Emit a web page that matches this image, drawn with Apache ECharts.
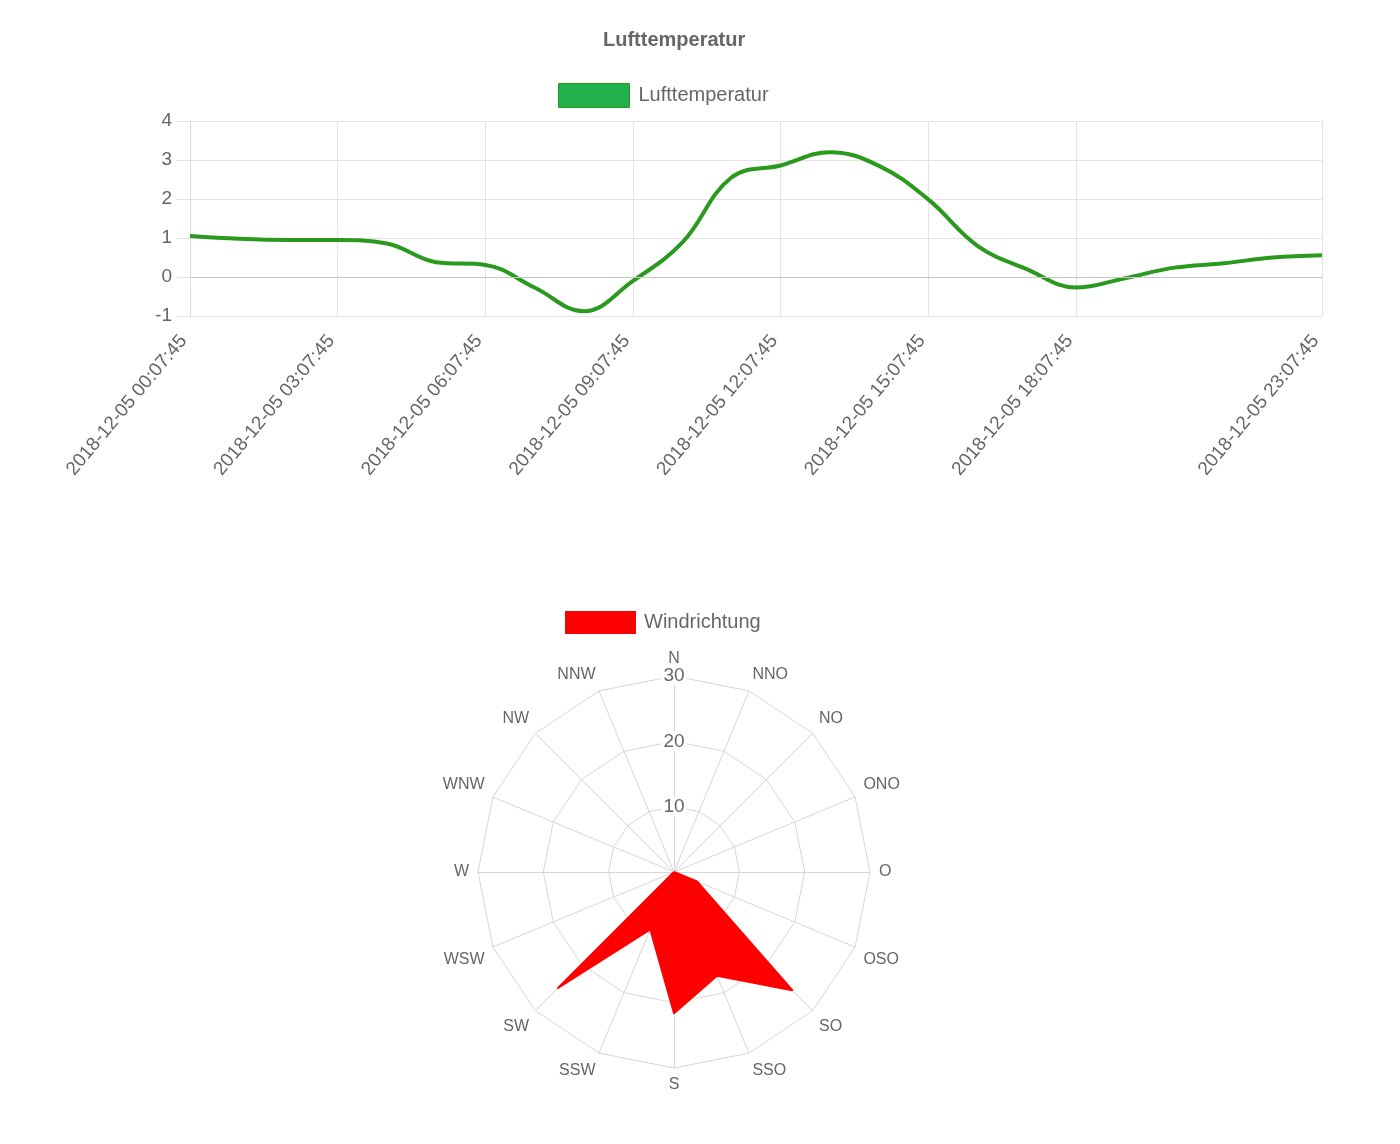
<!DOCTYPE html>
<html lang="de">
<head>
    <meta charset="UTF-8">
    <title>Lufttemperatur / Windrichtung</title>
    <style>
        html, body { margin: 0; padding: 0; background: #fff; }
        #chart { width: 1400px; height: 1144px; }
    </style>
</head>
<body>
<div id="chart"></div>
<script type="text/javascript" src="https://cdn.jsdelivr.net/npm/echarts@6/dist/echarts.min.js"></script>
<script type="text/javascript">

    // Lufttemperatur, stuendlich
    var zeiten = [
        '2018-12-05 00:07:45', '2018-12-05 01:07:45', '2018-12-05 02:07:45', '2018-12-05 03:07:45',
        '2018-12-05 04:07:45', '2018-12-05 05:07:45', '2018-12-05 06:07:45', '2018-12-05 07:07:45',
        '2018-12-05 08:07:45', '2018-12-05 09:07:45', '2018-12-05 10:07:45', '2018-12-05 11:07:45',
        '2018-12-05 12:07:45', '2018-12-05 13:07:45', '2018-12-05 14:07:45', '2018-12-05 15:07:45',
        '2018-12-05 16:07:45', '2018-12-05 17:07:45', '2018-12-05 18:07:45', '2018-12-05 19:07:45',
        '2018-12-05 20:07:45', '2018-12-05 21:07:45', '2018-12-05 22:07:45', '2018-12-05 23:07:45'
    ];
    var temperatur = [1.05, 0.98, 0.95, 0.95, 0.86, 0.38, 0.31, -0.27, -0.88, -0.1, 0.88, 2.55,
                      2.86, 3.2, 2.85, 1.99, 0.8, 0.2, -0.27, -0.03, 0.24, 0.35, 0.5, 0.56];
    var sichtbareTicks = [0, 3, 6, 9, 12, 15, 18, 23];

    // Windrichtung, im Uhrzeigersinn ab Norden
    var richtungen = ['N', 'NNO', 'NO', 'ONO', 'O', 'OSO', 'SO', 'SSO',
                      'S', 'SSW', 'SW', 'WSW', 'W', 'WNW', 'NW', 'NNW'];
    var windWerte = [0, 0, 0, 0, 0, 3.8, 25.6, 17.2, 21.6, 9.5, 25.1, 0, 0, 0, 0, 0];
    var obereNamen = ['NNO', 'NO', 'ONO', 'NNW', 'NW', 'WNW'];
    var untereNamen = ['OSO', 'SO', 'SSO', 'SSW', 'SW', 'WSW'];

    var grau = '#666';
    var gitter = '#e3e3e3';

    function tickZeigen(index) {
        return sichtbareTicks.indexOf(index) >= 0;
    }

    // echarts radar laeuft gegen den Uhrzeigersinn -> Reihenfolge umdrehen
    var radarIdx = [0];
    for (var i = richtungen.length - 1; i > 0; i--) radarIdx.push(i);

    var indikatoren = radarIdx.map(function (k, n) {
        var ind = { name: richtungen[k], max: 30, min: 0 };
        if (n === 0) {
            ind.axisLabel = {
                show: true, showMinLabel: false, margin: 0,
                align: 'center', verticalAlign: 'middle',
                fontSize: 19, color: grau, fontFamily: 'Liberation Sans',
                backgroundColor: '#fff', padding: [0, 2]
            };
        }
        return ind;
    });
    var radarWerte = radarIdx.map(function (k) { return windWerte[k]; });

    var option = {
        animation: false,
        textStyle: { fontFamily: 'Liberation Sans' },
        title: {
            text: 'Lufttemperatur',
            left: 598, top: 25,
            textStyle: { fontSize: 20, fontWeight: 'bold', color: grau, fontFamily: 'Liberation Sans' }
        },
        legend: [
            {
                left: 553, top: 78,
                itemWidth: 71, itemHeight: 24,
                icon: 'rect',
                data: [{
                    name: 'Lufttemperatur',
                    itemStyle: { color: '#22b14c', borderColor: '#2a9a1e', borderWidth: 1 }
                }],
                textStyle: { fontSize: 20, color: grau, padding: [0, 0, 0, 4] },
                selectedMode: false
            },
            {
                left: 560, top: 606,
                itemWidth: 71, itemHeight: 23,
                icon: 'rect',
                data: [{ name: 'Windrichtung', itemStyle: { color: '#ff0000' } }],
                textStyle: { fontSize: 20, color: grau, padding: [0, 0, 0, 3] },
                selectedMode: false
            }
        ],
        grid: { left: 190, right: 78, top: 121, bottom: 828 },
        xAxis: {
            type: 'category',
            boundaryGap: false,
            data: zeiten,
            axisLine: { lineStyle: { color: '#c6c6c6' } },
            axisTick: { show: true, length: 12, interval: tickZeigen, lineStyle: { color: gitter } },
            splitLine: { show: true, interval: tickZeigen, lineStyle: { color: gitter } },
            axisLabel: {
                interval: tickZeigen, rotate: 50, margin: 14,
                padding: [0, 10, 0, 0],
                fontSize: 19, color: grau
            }
        },
        yAxis: {
            type: 'value',
            min: -1, max: 4, interval: 1,
            axisLine: { show: true, lineStyle: { color: '#d8d8d8' } },
            axisTick: { show: true, length: 14, lineStyle: { color: gitter } },
            splitLine: { lineStyle: { color: gitter } },
            axisLabel: { fontSize: 19, color: grau, margin: 18 }
        },
        radar: {
            center: [674, 872],
            radius: 196,
            startAngle: 90,
            splitNumber: 3,
            shape: 'polygon',
            indicator: indikatoren,
            axisName: {
                color: grau, fontSize: 16,
                formatter: function (name) {
                    if (obereNamen.indexOf(name) >= 0) return '{oben|' + name + '}';
                    if (untereNamen.indexOf(name) >= 0) return '{unten|' + name + '}';
                    return name;
                },
                rich: {
                    oben: { color: grau, fontSize: 16, padding: [0, 0, 17, 0] },
                    unten: { color: grau, fontSize: 16, padding: [19, 0, 0, 0] }
                }
            },
            nameGap: 9,
            axisLine: { lineStyle: { color: '#d6d6d6' } },
            splitLine: { lineStyle: { color: '#d6d6d6' } },
            splitArea: { show: false },
            axisTick: { show: false },
            axisLabel: { show: false }
        },
        series: [
            {
                name: 'Lufttemperatur',
                type: 'line',
                data: temperatur,
                smooth: 0.4,
                showSymbol: false,
                symbol: 'none',
                lineStyle: { color: '#2a9a1e', width: 4 },
                itemStyle: { color: '#22b14c' },
                markLine: {
                    silent: true,
                    symbol: 'none',
                    label: { show: false },
                    lineStyle: { color: '#c6c6c6', type: 'solid', width: 1 },
                    data: [{ yAxis: 0 }]
                },
                z: 3
            },
            {
                name: 'Windrichtung',
                type: 'radar',
                symbol: 'none',
                data: [{
                    value: radarWerte,
                    name: 'Windrichtung',
                    lineStyle: { color: '#ff0000', width: 2 },
                    areaStyle: { color: '#ff0000', opacity: 1 },
                    itemStyle: { color: '#ff0000' }
                }]
            }
        ]
    };

    var myChart = echarts.init(document.getElementById('chart'));
    myChart.setOption(option);

</script>
</body>
</html>
